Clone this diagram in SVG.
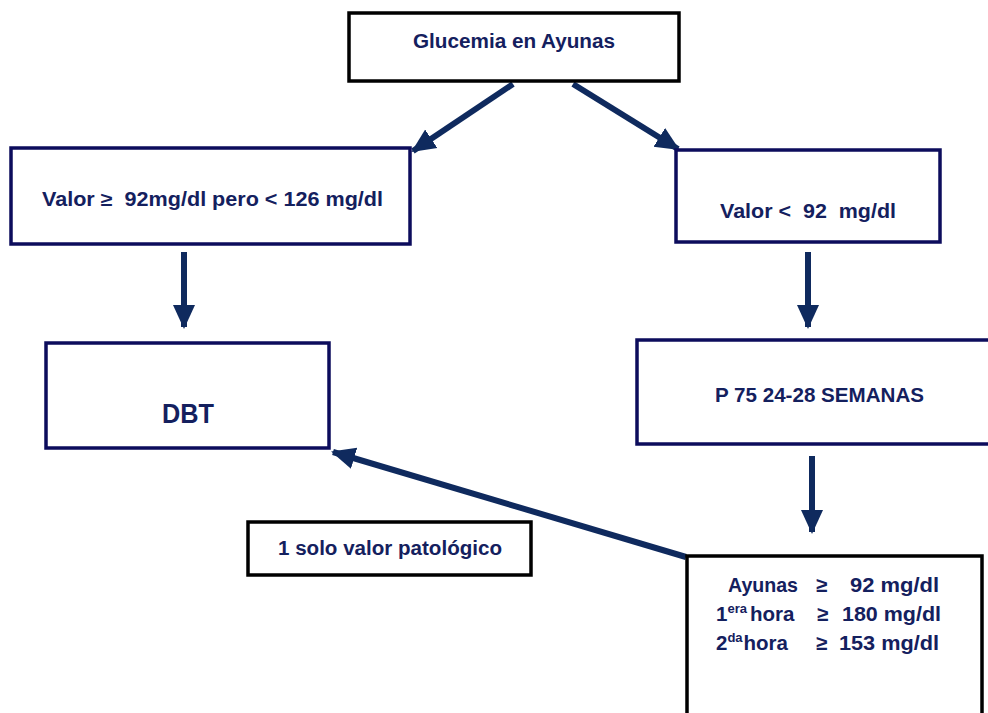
<svg xmlns="http://www.w3.org/2000/svg" width="988" height="713" viewBox="0 0 988 713">
<style>
.t{font-family:"Liberation Sans",Arial,sans-serif;font-weight:bold;fill:#14205e;font-size:19.5px}
.b{font-size:20.5px}
.s{font-size:13px}
.bk{fill:#fff;stroke:#000;stroke-width:3.5}
.nv{fill:#fff;stroke:#0c0c5c;stroke-width:3.5}
.c{stroke:#0f2a5e;stroke-width:6;fill:none}
</style>
<defs>
<marker id="ah" markerUnits="userSpaceOnUse" markerWidth="26" markerHeight="26" viewBox="0 0 26 26" refX="22" refY="13" orient="auto">
<path d="M0,2 L24,13 L0,24 Z" fill="#0f2a5e"/>
</marker>
</defs>
<g id="connectors">
<line class="c" x1="513" y1="84" x2="413" y2="151" marker-end="url(#ah)"/>
<line class="c" x1="573" y1="84" x2="678" y2="149" marker-end="url(#ah)"/>
<line class="c" x1="184" y1="252" x2="184" y2="327" marker-end="url(#ah)"/>
<line class="c" x1="808" y1="252" x2="808" y2="327" marker-end="url(#ah)"/>
<line class="c" x1="812" y1="456" x2="812" y2="532" marker-end="url(#ah)"/>
<line class="c" x1="686" y1="557" x2="333" y2="452" marker-end="url(#ah)"/>
</g>
<g id="glucemia">
<rect class="bk" x="349" y="13" width="330" height="68"/>
<text class="t" x="514" y="48" text-anchor="middle" textLength="202" lengthAdjust="spacingAndGlyphs">Glucemia en Ayunas</text>
</g>
<g id="valor-alto">
<rect class="nv" x="11" y="148" width="399" height="96"/>
<text class="t" x="42" y="206" textLength="341" lengthAdjust="spacingAndGlyphs" xml:space="preserve">Valor ≥  92mg/dl pero &lt; 126 mg/dl</text>
</g>
<g id="valor-bajo">
<rect class="nv" x="676" y="150" width="264" height="92"/>
<text class="t" x="720" y="218" textLength="176" lengthAdjust="spacingAndGlyphs" xml:space="preserve">Valor &lt;  92  mg/dl</text>
</g>
<g id="dbt">
<rect class="nv" x="46" y="343" width="283" height="105"/>
<text class="t" x="188" y="423" text-anchor="middle" textLength="52" lengthAdjust="spacingAndGlyphs" style="font-size:27px">DBT</text>
</g>
<g id="p75">
<rect class="nv" x="637" y="340" width="360" height="104"/>
<text class="t" x="715" y="402" textLength="209" lengthAdjust="spacingAndGlyphs">P 75 24-28 SEMANAS</text>
</g>
<g id="solo">
<rect class="bk" x="248" y="522" width="283" height="53"/>
<text class="t" x="278" y="555" textLength="224" lengthAdjust="spacingAndGlyphs">1 solo valor patológico</text>
</g>
<g id="criterios">
<rect class="bk" x="687" y="556" width="295" height="170"/>
<text class="t b" x="728" y="592" textLength="70" lengthAdjust="spacingAndGlyphs">Ayunas</text>
<text class="t b" x="816" y="592">≥</text>
<text class="t b" x="850" y="592" textLength="89" lengthAdjust="spacingAndGlyphs">92 mg/dl</text>
<text class="t b" x="716" y="621">1<tspan class="s" dy="-8">era</tspan><tspan dy="8" dx="3">hora</tspan></text>
<text class="t b" x="817" y="621">≥</text>
<text class="t b" x="842" y="621" textLength="99" lengthAdjust="spacingAndGlyphs">180 mg/dl</text>
<text class="t b" x="716" y="650">2<tspan class="s" dy="-8">da</tspan><tspan dy="8" dx="1">hora</tspan></text>
<text class="t b" x="816" y="650">≥</text>
<text class="t b" x="839" y="650" textLength="100" lengthAdjust="spacingAndGlyphs">153 mg/dl</text>
</g>
</svg>
